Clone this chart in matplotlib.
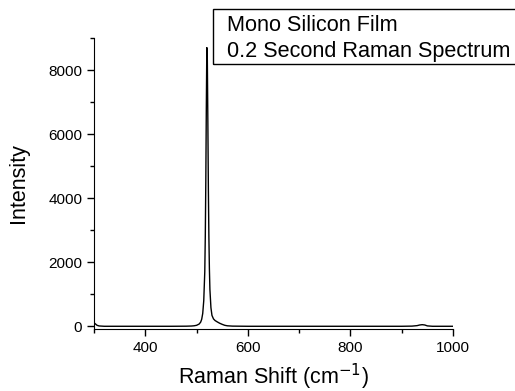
import matplotlib
matplotlib.use("Agg")
import matplotlib.pyplot as plt
from matplotlib.ticker import MultipleLocator

plt.rcParams['font.family'] = ['Liberation Sans', 'DejaVu Sans']

raman_shift = [300, 303, 306, 310, 320, 350, 400, 450, 480, 490, 495, 500, 505, 508,
               510, 512, 514, 516, 517, 518, 519, 520, 521, 522, 523, 524, 525,
               526, 528, 530, 533, 536, 540, 545, 550, 555, 560, 570, 600, 650,
               700, 750, 800, 850, 900, 920, 930, 935, 940, 945, 950, 960, 1000]
intensity = [110, 70, 30, 10, 0, 0, 0, 0, 3, 8, 15, 30, 70, 130,
             220, 400, 800, 1700, 2800, 4500, 6800, 8700, 8300, 6400, 4300, 2800, 1800,
             1150, 580, 340, 230, 180, 140, 95, 60, 30, 15, 5, 0, 0,
             0, 0, 0, 0, 0, 5, 20, 40, 50, 40, 12, 0, 0]

x_ticks = [400, 600, 800, 1000]
y_ticks = [0, 2000, 4000, 6000, 8000]

fig = plt.figure(figsize=(5.15, 3.91), dpi=100)
ax = fig.add_axes([94/515, 1-329/391, (453-94)/515, (329-38)/391])
ax.plot(raman_shift, intensity, color='black', lw=1.0)
ax.set_xlim(300, 1000)
ax.set_ylim(-85, 9000)
ax.set_xticks(x_ticks)
ax.set_yticks(y_ticks)
ax.xaxis.set_minor_locator(MultipleLocator(100))
ax.yaxis.set_minor_locator(MultipleLocator(1000))
for s in ['top', 'right']:
    ax.spines[s].set_visible(False)
ax.tick_params(which='major', direction='out', length=5, width=1, labelsize=11)
ax.tick_params(which='minor', direction='out', length=3, width=1)
ax.set_xlabel('Raman Shift (cm$^{-1}$)', fontsize=15.5, labelpad=5)
ax.set_ylabel('Intensity', fontsize=15.5, labelpad=14)

fig.text(227/515, 1-38.5/391, 'Mono Silicon Film\n0.2 Second Raman Spectrum',
         fontsize=15.6, ha='left', va='center', linespacing=1.35)
fig.patches.append(plt.Rectangle((213/515, 1-64/391), 0.6, 55/391, transform=fig.transFigure,
                                 fill=False, edgecolor='black', lw=1, figure=fig))

fig.savefig('out.png', dpi=100)
